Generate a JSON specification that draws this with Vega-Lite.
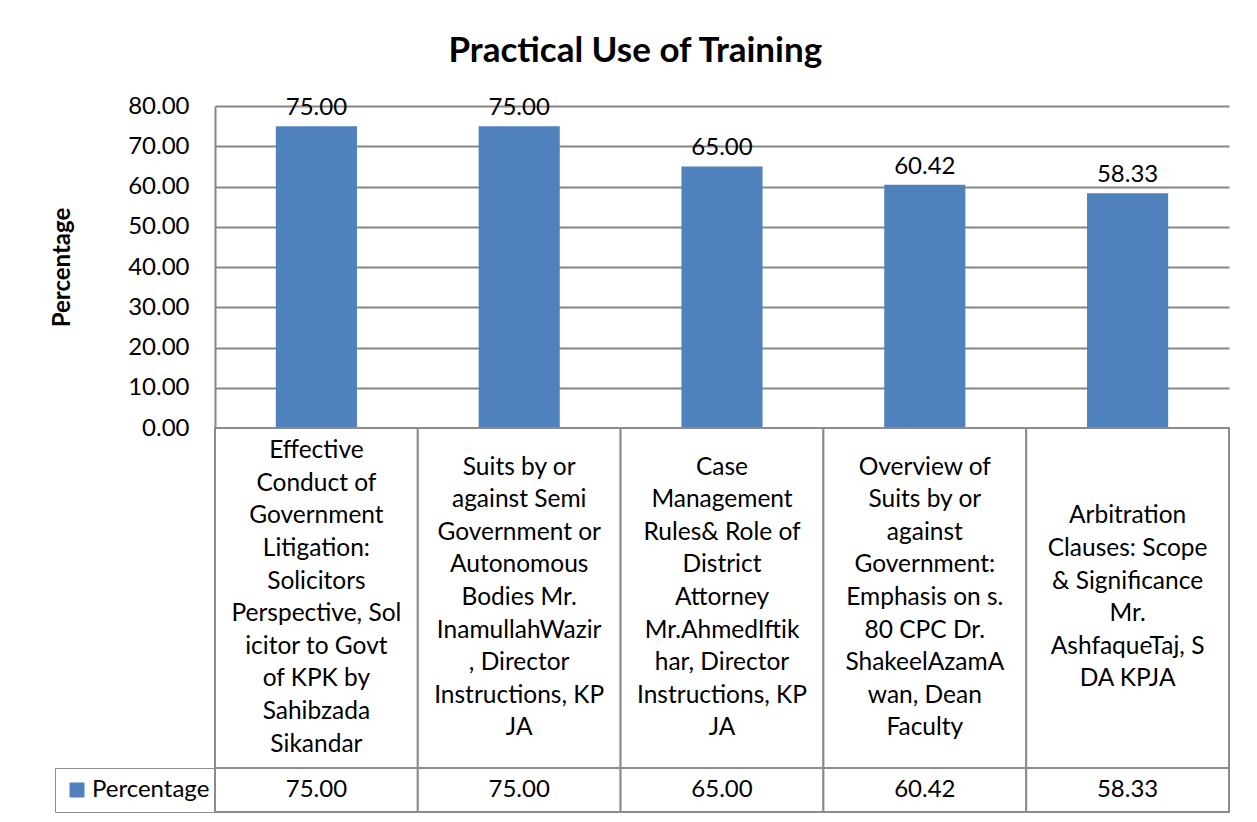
{
  "$schema": "https://vega.github.io/schema/vega-lite/v6.json",
  "background": "white",
  "padding": {"left": 50, "top": 34, "right": 20, "bottom": 5},
  "bounds": "flush",
  "title": {"text": "Practical Use of Training", "font": "Lato", "fontSize": 35, "fontWeight": "bold", "color": "black", "offset": 25, "anchor": "middle", "frame": "bounds", "dx": -5},
  "config": {
    "view": {"stroke": null},
    "font": "Lato"
  },
  "datasets": {
    "training": [
      {"topic": "T1", "label": "Effective\nConduct of\nGovernment\nLitigation:\nSolicitors\nPerspective, Sol\nicitor  to Govt\nof KPK by\nSahibzada\nSikandar", "value": 75.00, "series": "Percentage"},
      {"topic": "T2", "label": "Suits by or\nagainst Semi\nGovernment or\nAutonomous\nBodies  Mr.\nInamullahWazir\n, Director\nInstructions, KP\nJA", "value": 75.00, "series": "Percentage"},
      {"topic": "T3", "label": "Case\nManagement\nRules& Role of\nDistrict\nAttorney\nMr.AhmedIftik\nhar, Director\nInstructions, KP\nJA", "value": 65.00, "series": "Percentage"},
      {"topic": "T4", "label": "Overview of\nSuits by or\nagainst\nGovernment:\nEmphasis on s.\n80 CPC Dr.\nShakeelAzamA\nwan, Dean\nFaculty", "value": 60.42, "series": "Percentage"},
      {"topic": "T5", "label": "Arbitration\nClauses: Scope\n& Significance\nMr.\nAshfaqueTaj, S\nDA KPJA", "value": 58.33, "series": "Percentage"}
    ]
  },
  "data": {"name": "training"},
  "spacing": 0,
  "resolve": {"scale": {"color": "independent", "y": "independent"}, "legend": {"color": "independent"}},
  "vconcat": [
    {
      "width": 1014,
      "height": 322,
      "encoding": {
        "x": {"field": "topic", "type": "nominal", "sort": null, "axis": null, "scale": {"paddingInner": 0, "paddingOuter": 0}},
        "y": {"field": "value", "type": "quantitative", "scale": {"domain": [0, 80]},
          "axis": {"title": "Percentage", "titleFont": "Lato", "titleFontSize": 24, "titleFontWeight": "bold", "titleColor": "black", "titlePadding": 53,
            "values": [0, 10, 20, 30, 40, 50, 60, 70, 80], "format": ".2f", "labelFont": "Lato", "labelFontSize": 24, "labelColor": "black", "labelPadding": 26,
            "ticks": false, "domainColor": "#868686", "domainWidth": 2, "gridColor": "#868686", "gridWidth": 2, "grid": true}}
      },
      "layer": [
        {"mark": {"type": "bar", "width": {"band": 0.4}},
          "encoding": {"color": {"field": "series", "type": "nominal", "scale": {"range": ["#4f81bd"]},
            "legend": {"title": null, "orient": "none", "legendX": -160, "legendY": 662, "symbolType": "square", "symbolSize": 225, "symbolStrokeWidth": 0, "labelFont": "Lato", "labelFontSize": 24, "labelColor": "black", "labelOffset": 3, "padding": 10, "strokeColor": "#8c8c8c"}}}},
        {"mark": {"type": "text", "font": "Lato", "fontSize": 24, "color": "black", "baseline": "alphabetic", "dy": -11},
          "encoding": {"text": {"field": "value", "type": "quantitative", "format": ".2f"}}}
      ]
    },
    {
      "width": 1014,
      "height": 340,
      "encoding": {
        "x": {"field": "topic", "type": "nominal", "sort": null, "axis": null, "scale": {"paddingInner": 0, "paddingOuter": 0}}
      },
      "layer": [
        {"mark": {"type": "rect", "fill": "white", "stroke": "#8c8c8c", "strokeWidth": 2}},
        {"transform": [{"calculate": "length(split(datum.label, '\\n'))", "as": "nlines"}],
          "mark": {"type": "text", "font": "Lato", "fontSize": 24.5, "color": "black", "lineBreak": "\n", "lineHeight": 32.6, "align": "center", "baseline": "middle"},
          "encoding": {"text": {"field": "label", "type": "nominal"},
            "y": {"field": "nlines", "type": "quantitative", "axis": null, "scale": {"domain": [-9.4233, 11.4233], "nice": false, "zero": false}}}}
      ]
    },
    {
      "width": 1014,
      "height": 44,
      "encoding": {
        "x": {"field": "topic", "type": "nominal", "sort": null, "axis": null, "scale": {"paddingInner": 0, "paddingOuter": 0}}
      },
      "layer": [
        {"mark": {"type": "rect", "fill": "white", "stroke": "#8c8c8c", "strokeWidth": 2}},
        {"mark": {"type": "text", "font": "Lato", "fontSize": 24, "color": "black"},
          "encoding": {"text": {"field": "value", "type": "quantitative", "format": ".2f"}}}
      ]
    }
  ]
}
